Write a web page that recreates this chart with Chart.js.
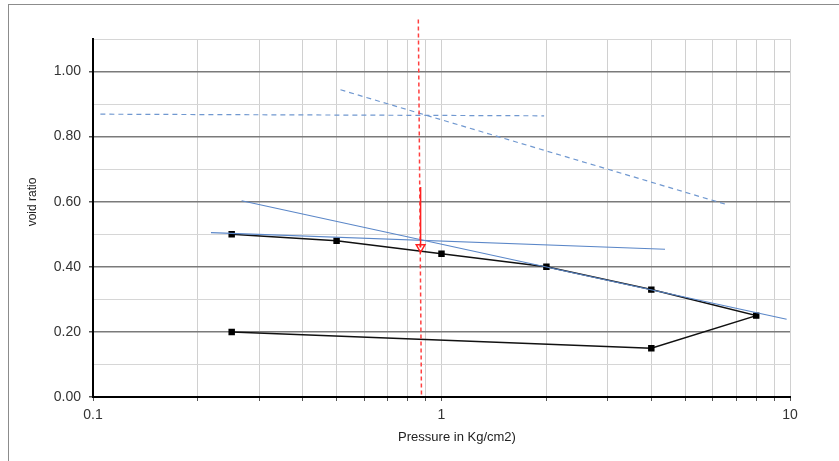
<!DOCTYPE html>
<html>
<head>
<meta charset="utf-8">
<script src="https://cdn.jsdelivr.net/npm/chart.js@4.4.1/dist/chart.umd.min.js"></script>
<style>
  html, body { margin: 0; padding: 0; background: #fff; }
  #wrap { position: relative; width: 839px; height: 461px; overflow: hidden; }
  #frame { position: absolute; left: 8px; top: 4px; width: 900px; height: 500px; border: 1.5px solid #8c8c8c; }
  #canvas { position: absolute; left: 0; top: 0; }
</style>
</head>
<body>
<div id="wrap">
  <div id="frame"></div>
  <canvas id="canvas" width="839" height="461"></canvas>
</div>
<script>
// consolidation test, void ratio vs pressure
var pressure = [0.25, 0.5, 1, 2, 4, 8, 4, 0.25];
var voidRatio = [0.50, 0.48, 0.44, 0.40, 0.33, 0.25, 0.15, 0.20];

// construction lines
var flatLineX = [0.218, 4.38];
var flatLineY = [0.505, 0.454];
var slopeLineX = [0.267, 9.78];
var slopeLineY = [0.603, 0.239];
var dashFlatX = [0.105, 1.97];
var dashFlatY = [0.869, 0.864];
var dashSlopeX = [0.513, 6.55];
var dashSlopeY = [0.944, 0.592];
var preconX = [0.858, 0.876];
var preconY = [1.16, 0.005];
var arrowX = [0.871, 0.871];
var arrowY = [0.645, 0.46];

var xTicks = [0.1, 0.2, 0.3, 0.4, 0.5, 0.6, 0.7, 0.8, 0.9, 1, 2, 3, 4, 5, 6, 7, 8, 9, 10];
var xLabels = [0.1, 1, 10];
var yTicks = [0, 0.1, 0.2, 0.3, 0.4, 0.5, 0.6, 0.7, 0.8, 0.9, 1.0, 1.1];

function pts(xs, ys) {
  return xs.map(function (x, i) { return { x: x, y: ys[i] }; });
}

function isMajor(v) {
  return Math.round(v * 10) % 2 === 0;
}

var axisTitles = {
  id: 'axisTitles',
  afterDraw: function (chart) {
    var ctx = chart.ctx;
    ctx.save();
    ctx.fillStyle = '#222';
    ctx.textAlign = 'center';
    ctx.textBaseline = 'middle';
    ctx.font = '12px "Liberation Sans", Arial, sans-serif';
    ctx.save();
    ctx.translate(33, 202);
    ctx.rotate(-Math.PI / 2);
    ctx.fillText('void ratio', 0, 0);
    ctx.restore();
    ctx.font = '13px "Liberation Sans", Arial, sans-serif';
    ctx.fillText('Pressure in Kg/cm2)', 457, 437);
    ctx.restore();
  }
};

var ctx = document.getElementById('canvas');
var myChart = new Chart(ctx, {
  type: 'scatter',
  data: {
    datasets: [{
      data: pts(arrowX, arrowY),
      showLine: true,
      borderColor: '#ff2020',
      borderWidth: 1.5,
      pointStyle: [false, 'triangle'],
      pointRadius: [0, 5],
      pointRotation: 180,
      pointBorderColor: '#ff2020',
      pointBackgroundColor: 'rgba(0,0,0,0)',
      pointBorderWidth: 1.5
    }, {
      data: pts(preconX, preconY),
      showLine: true,
      clip: false,
      borderColor: '#ff4040',
      borderWidth: 1.5,
      borderDash: [4, 3],
      pointRadius: 0
    }, {
      data: pts(flatLineX, flatLineY),
      showLine: true,
      borderColor: '#5b87c8',
      borderWidth: 1.2,
      pointRadius: 0
    }, {
      data: pts(slopeLineX, slopeLineY),
      showLine: true,
      borderColor: '#5b87c8',
      borderWidth: 1.2,
      pointRadius: 0
    }, {
      data: pts(dashFlatX, dashFlatY),
      showLine: true,
      borderColor: '#7098d0',
      borderWidth: 1.2,
      borderDash: [5, 4],
      pointRadius: 0
    }, {
      data: pts(dashSlopeX, dashSlopeY),
      showLine: true,
      borderColor: '#7098d0',
      borderWidth: 1.2,
      borderDash: [5, 4],
      pointRadius: 0
    }, {
      data: pts(pressure, voidRatio),
      showLine: true,
      borderColor: '#111',
      borderWidth: 1.5,
      pointStyle: 'rect',
      pointRadius: 3.5,
      pointBackgroundColor: '#000',
      pointBorderColor: '#000'
    }]
  },
  options: {
    responsive: false,
    animation: false,
    layout: { padding: { left: 0, right: 49, top: 39, bottom: 0 } },
    plugins: {
      legend: { display: false },
      tooltip: { enabled: false }
    },
    scales: {
      x: {
        type: 'logarithmic',
        min: 0.1,
        max: 10,
        afterBuildTicks: function (s) {
          s.ticks = xTicks.map(function (v) { return { value: v }; });
        },
        afterFit: function (s) { s.height = 64; },
        border: { color: '#000', width: 2 },
        grid: {
          color: '#d0d0d0',
          lineWidth: 1,
          tickLength: 4,
          tickColor: '#555'
        },
        ticks: {
          autoSkip: false,
          maxRotation: 0,
          padding: 6,
          color: '#333',
          font: { family: '"Liberation Sans", Arial, sans-serif', size: 14 },
          callback: function (v) {
            return xLabels.indexOf(v) >= 0 ? String(v) : '';
          }
        }
      },
      y: {
        min: 0,
        max: 1.1,
        afterBuildTicks: function (s) {
          s.ticks = yTicks.map(function (v) { return { value: v }; });
        },
        afterFit: function (s) { s.width = 93; },
        border: { color: '#000', width: 2 },
        grid: {
          color: function (c) {
            return isMajor(c.tick.value) ? '#7a7a7a' : '#d6d6d6';
          },
          lineWidth: function (c) {
            return isMajor(c.tick.value) ? 1.5 : 1;
          },
          tickLength: 4,
          tickColor: function (c) {
            return isMajor(c.tick.value) ? '#555' : 'rgba(0,0,0,0)';
          }
        },
        ticks: {
          autoSkip: false,
          padding: 8,
          color: '#333',
          font: { family: '"Liberation Sans", Arial, sans-serif', size: 14 },
          callback: function (v) {
            return isMajor(v) ? v.toFixed(2) : '';
          }
        }
      }
    }
  },
  plugins: [axisTitles]
});
</script>
</body>
</html>
